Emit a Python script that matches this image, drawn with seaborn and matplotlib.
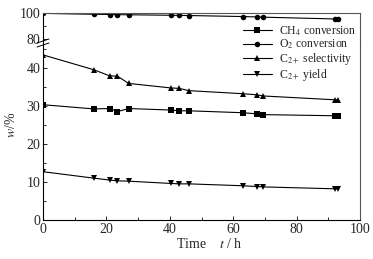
import numpy as np
import pandas as pd
import seaborn as sns
import matplotlib.pyplot as plt
from matplotlib.lines import Line2D
from matplotlib.ticker import MultipleLocator

# time on stream (h)
time_h = [0, 16, 21, 23.5, 27, 40.5, 43, 46, 63, 67.5, 69.5, 92, 93]

ch4_conv = [30.3, 29.2, 29.3, 28.5, 29.3, 28.9, 28.7, 28.7, 28.2, 27.9, 27.7, 27.4, 27.4]
o2_conv = [100.0, 99.3, 99.1, 99.0, 98.9, 98.5, 98.4, 98.3, 97.5, 97.2, 97.0, 95.6, 95.5]
c2_sel = [43.4, 39.5, 37.9, 37.8, 35.9, 34.7, 34.6, 34.0, 33.2, 32.9, 32.6, 31.6, 31.6]
c2_yield = [12.7, 11.0, 10.5, 10.3, 10.2, 9.6, 9.5, 9.5, 9.0, 8.8, 8.7, 8.2, 8.2]

labels = ["CH$_4$ conversion", "O$_2$ conversion",
          "C$_{2+}$ selectivity", "C$_{2+}$ yield"]
markers = ["s", "o", "^", "v"]

sns.set_style("ticks")
plt.rcParams["font.family"] = ["Liberation Serif", "DejaVu Serif"]
plt.rcParams["mathtext.fontset"] = "stix"
plt.rcParams["font.size"] = 10

fig = plt.figure(figsize=(3.73, 2.59), dpi=100)
L, R = 43 / 373, 360 / 373
bot, mid, top = 1 - 220 / 259, 1 - 45 / 259, 1 - 13 / 259
ax_lo = fig.add_axes([L, bot, R - L, mid - bot])
ax_hi = fig.add_axes([L, mid, R - L, top - mid], sharex=ax_lo)

series = [(ax_lo, ch4_conv), (ax_hi, o2_conv), (ax_lo, c2_sel), (ax_lo, c2_yield)]
for (ax, vals), m, lab in zip(series, markers, labels):
    df = pd.DataFrame({"t": time_h, "v": vals})
    sns.lineplot(data=df, x="t", y="v", ax=ax, color="black", lw=0.8,
                 marker=m, markersize=4, markeredgewidth=0, legend=False)

ax_lo.set_xlim(0, 100)
ax_lo.set_ylim(0, 46)
ax_hi.set_ylim(75, 100.3)

ax_lo.xaxis.set_major_locator(MultipleLocator(20))
ax_lo.xaxis.set_minor_locator(MultipleLocator(10))
ax_lo.yaxis.set_major_locator(MultipleLocator(10))
ax_lo.yaxis.set_minor_locator(MultipleLocator(5))
ax_hi.yaxis.set_major_locator(MultipleLocator(20))
ax_hi.yaxis.set_minor_locator(MultipleLocator(10))

for ax in (ax_lo, ax_hi):
    ax.set_xlabel("")
    ax.set_ylabel("")
    ax.tick_params(which="both", direction="in", top=False, right=False,
                   width=0.7, labelsize=10, pad=2)
    ax.tick_params(which="major", length=3)
    ax.tick_params(which="minor", length=2)
    for s in ax.spines.values():
        s.set_linewidth(0.8)
    ax.spines["left"].set_color("black")
    ax.spines["right"].set_color("#555555")
    ax.spines["top"].set_color("#555555")
    ax.spines["bottom"].set_color("black")

ax_lo.spines["top"].set_visible(False)
ax_hi.spines["bottom"].set_visible(False)
ax_hi.tick_params(axis="x", which="both", bottom=False, labelbottom=False)

# break marks on the left spine
for yy in (1 - 41 / 259, 1 - 45 / 259):
    fig.add_artist(Line2D([L - 6 / 373, L + 6 / 373], [yy - 2 / 259, yy + 2 / 259],
                          color="black", lw=0.7, transform=fig.transFigure))

fig.text(0.5 * (L + R) + 8 / 373, 1 - 244 / 259, "Time    $t$ / h",
         ha="center", va="center", fontsize=10)
fig.text(11 / 373, 1 - 125 / 259, "$w$/%", rotation=90,
         ha="center", va="center", fontsize=10)

handles = [Line2D([], [], color="black", lw=0.8, marker=m, markersize=4,
                  markeredgewidth=0) for m in markers]
fig.legend(handles, labels, loc="upper left", bbox_to_anchor=(235 / 373, 1 - 16 / 259),
           frameon=False, fontsize=8.5, labelspacing=0.0, handlelength=2.4,
           handletextpad=0.6, borderpad=0.2)

fig.savefig("out.png", dpi=100)
